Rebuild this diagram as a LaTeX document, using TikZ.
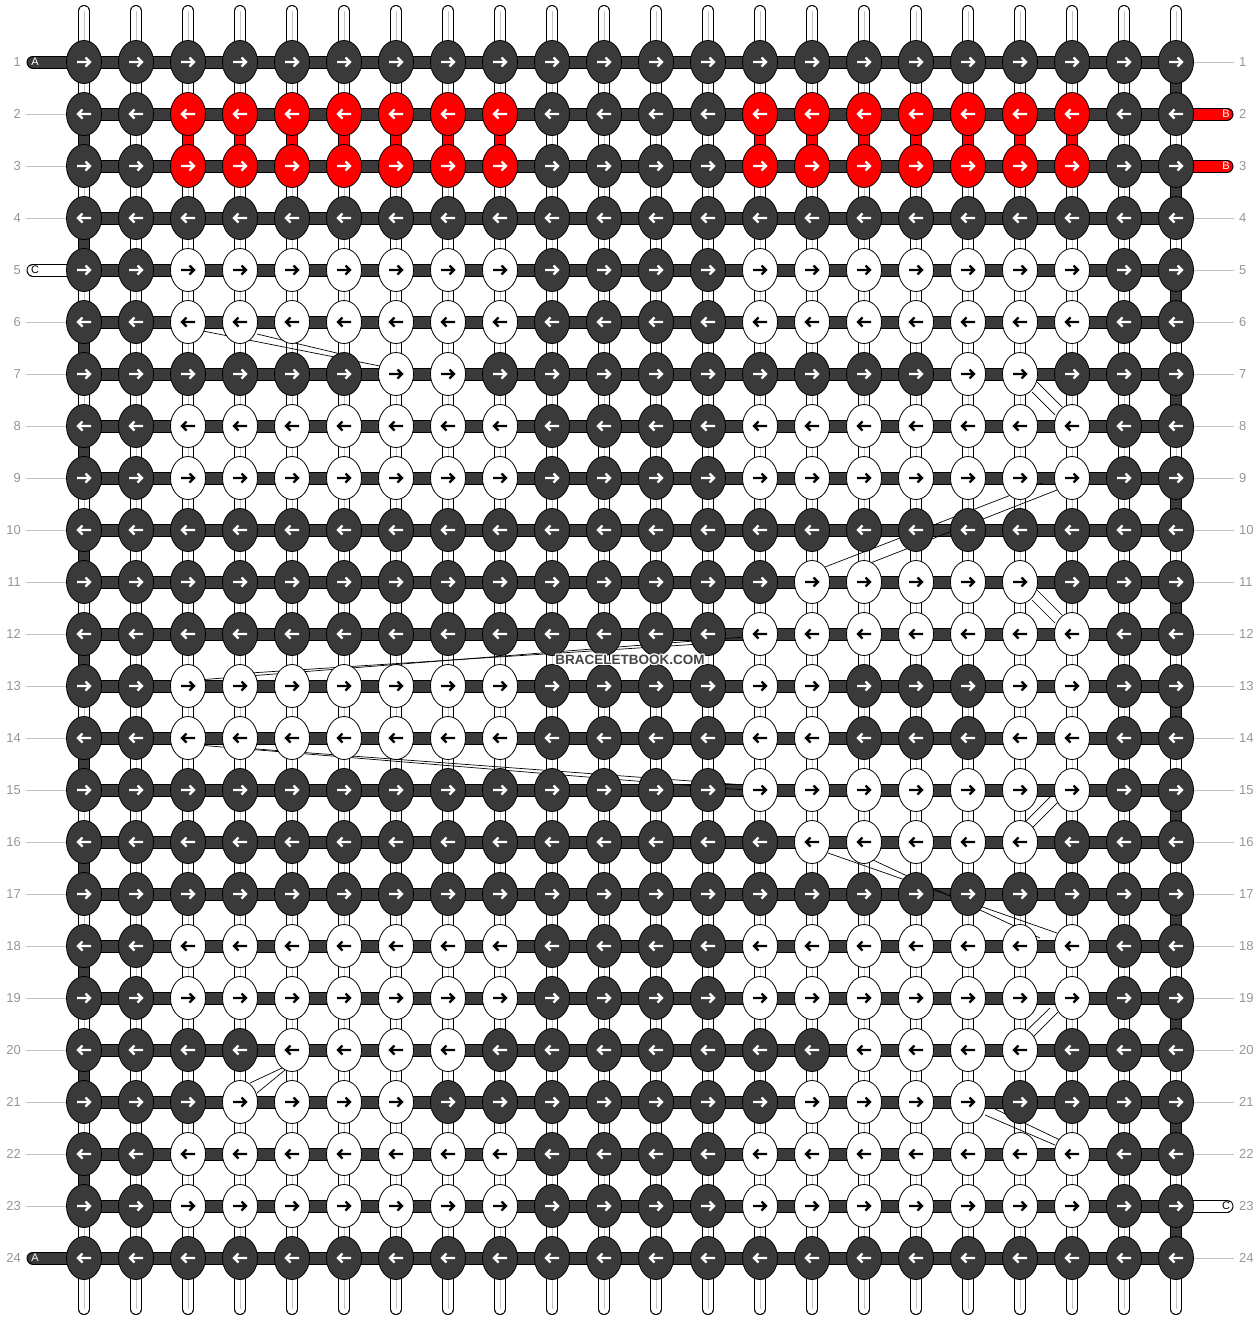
\documentclass[tikz,border=0pt]{standalone}
\usepackage{fontspec}
\setmainfont{Liberation Sans}
\usetikzlibrary{shapes.geometric}

\begin{document}
\begin{tikzpicture}[x=1pt, y=-1pt]
            % \draw [help lines,step = 52] (0,0) grid (1260,1320);

            \definecolor{knotDark}{RGB}{58,58,58};
            \definecolor{knotRed}{RGB}{255,0,0};
            \definecolor{centerGray}{RGB}{195,195,195};
            \definecolor{numGray}{RGB}{150,150,150};
            \definecolor{markColor}{RGB}{68,68,68};

            \tikzset{
                knot/.style = {ellipse, draw = black, line width = 0.8, minimum width = 35, minimum height = 43, inner sep = 0},
                kd/.style = {fill = knotDark},
                kr/.style = {fill = knotRed},
                kw/.style = {fill = white},
                arr/.style = {line width = 2.4, line cap = butt, line join = miter},
                ad/.style = {white}, ar/.style = {white}, aw/.style = {black},
                thread/.style = {draw = black, line width = 1, double = white, double distance = 10, line cap = round},
                seg/.style = {draw = black, line width = 1, double distance = 10},
                bar/.style = {draw = black, line width = 1, double = knotDark, double distance = 11},
                endLabel/.style = {inner sep = 0, font = \fontsize{11}{11}\selectfont},
                numLabel/.style = {inner sep = 0, numGray, font = \fontsize{13}{13}\selectfont},
                numLine/.style = {draw = centerGray, line width = 0.8},
                thinLine/.style = {black, line width = 0.7}
            }

            \useasboundingbox (0,0) rectangle (1260,1320);

            % grid of knot positions
            \foreach \r in {1,...,24}
                \foreach \c in {1,...,22}
                    \coordinate (k-\r-\c) at ({32+52*\c},{10+52*\r});
            \foreach \c in {1,...,22} {
                \coordinate (top-\c) at ({32+52*\c},11);
                \coordinate (bot-\c) at ({32+52*\c},1309);
            }

            % base threads
            \foreach \c in {1,...,22} {
                \draw [thread] (top-\c) -- (bot-\c);
                \draw [centerGray, line width = 0.8] (top-\c) -- (bot-\c);
            }

            % turns at the edges
            \foreach \r [evaluate = \r as \s using int(\r+1)] in {2,4,...,22}
                \draw [seg, double = knotDark] (k-\r-1) -- (k-\s-1);
            \foreach \r [evaluate = \r as \s using int(\r+1)] in {1,3,...,23}
                \draw [seg, double = knotDark] (k-\r-22) -- (k-\s-22);

            % red thread between row 2 and 3
            \foreach \c in {3,...,9}
                \draw [seg, double = knotRed] (k-2-\c) -- (k-3-\c);
            \foreach \c in {14,...,20}
                \draw [seg, double = knotRed] (k-2-\c) -- (k-3-\c);

            % rows
            \foreach \r in {1,...,24}
                \draw [bar] (k-\r-1) -- (k-\r-22);

            % loose ends
            \coordinate (endA1) at (33,62);
            \coordinate (endA24) at (33,1258);
            \coordinate (endC5) at (33,270);
            \coordinate (endB2) at (1227,114);
            \coordinate (endB3) at (1227,166);
            \coordinate (endC23) at (1227,1206);
            \draw [bar, line cap = round] (endA1) -- (k-1-1);
            \draw [bar, line cap = round] (endA24) -- (k-24-1);
            \draw [bar, double = white, line cap = round] (endC5) -- (k-5-1);
            \draw [bar, double = knotRed, line cap = round] (endB2) -- (k-2-22);
            \draw [bar, double = knotRed, line cap = round] (endB3) -- (k-3-22);
            \draw [bar, double = white, line cap = round] (endC23) -- (k-23-22);
            \node [endLabel, white] (labA1) at (35,62) {A};
            \node [endLabel, white] (labA24) at (35,1258) {A};
            \node [endLabel] (labC5) at (35,270) {C};
            \node [endLabel, white] (labB2) at (1226,114) {B};
            \node [endLabel, white] (labB3) at (1226,166) {B};
            \node [endLabel] (labC23) at (1226,1206) {C};

            % stray lines
            \draw [thinLine] (203,331) -- (380,366);
            \draw [thinLine] (257,334) -- (345,355);
            \draw [thinLine] (1037,382) -- (1062,407);
            \draw [thinLine] (1032,392) -- (1055,415);
            \draw [thinLine] (1042,483) -- (825,567);
            \draw [thinLine] (1057,490) -- (850,571);
            \draw [thinLine] (1037,590) -- (1062,615);
            \draw [thinLine] (1032,600) -- (1055,623);
            \draw [thinLine] (198,680) -- (745,637);
            \draw [thinLine] (250,673) -- (700,644);
            \draw [thinLine] (198,745) -- (745,790);
            \draw [thinLine] (243,748) -- (745,785);
            \draw [thinLine] (1032,828) -- (1060,800);
            \draw [thinLine] (1022,825) -- (1050,797);
            \draw [thinLine] (828,853) -- (1057,933);
            \draw [thinLine] (873,860) -- (1040,938);
            \draw [thinLine] (1032,1038) -- (1058,1012);
            \draw [thinLine] (1022,1035) -- (1050,1008);
            \draw [thinLine] (250,1083) -- (282,1068);
            \draw [thinLine] (257,1093) -- (285,1070);
            \draw [thinLine] (985,1115) -- (1055,1145);
            \draw [thinLine] (993,1108) -- (1060,1140);

            % knots
            \foreach \r/\row in {
                1/{d,d,d,d,d,d,d,d,d,d,d,d,d,d,d,d,d,d,d,d,d,d},
                2/{d,d,r,r,r,r,r,r,r,d,d,d,d,r,r,r,r,r,r,r,d,d},
                3/{d,d,r,r,r,r,r,r,r,d,d,d,d,r,r,r,r,r,r,r,d,d},
                4/{d,d,d,d,d,d,d,d,d,d,d,d,d,d,d,d,d,d,d,d,d,d},
                5/{d,d,w,w,w,w,w,w,w,d,d,d,d,w,w,w,w,w,w,w,d,d},
                6/{d,d,w,w,w,w,w,w,w,d,d,d,d,w,w,w,w,w,w,w,d,d},
                7/{d,d,d,d,d,d,w,w,d,d,d,d,d,d,d,d,d,w,w,d,d,d},
                8/{d,d,w,w,w,w,w,w,w,d,d,d,d,w,w,w,w,w,w,w,d,d},
                9/{d,d,w,w,w,w,w,w,w,d,d,d,d,w,w,w,w,w,w,w,d,d},
                10/{d,d,d,d,d,d,d,d,d,d,d,d,d,d,d,d,d,d,d,d,d,d},
                11/{d,d,d,d,d,d,d,d,d,d,d,d,d,d,w,w,w,w,w,d,d,d},
                12/{d,d,d,d,d,d,d,d,d,d,d,d,d,w,w,w,w,w,w,w,d,d},
                13/{d,d,w,w,w,w,w,w,w,d,d,d,d,w,w,d,d,d,w,w,d,d},
                14/{d,d,w,w,w,w,w,w,w,d,d,d,d,w,w,d,d,d,w,w,d,d},
                15/{d,d,d,d,d,d,d,d,d,d,d,d,d,w,w,w,w,w,w,w,d,d},
                16/{d,d,d,d,d,d,d,d,d,d,d,d,d,d,w,w,w,w,w,d,d,d},
                17/{d,d,d,d,d,d,d,d,d,d,d,d,d,d,d,d,d,d,d,d,d,d},
                18/{d,d,w,w,w,w,w,w,w,d,d,d,d,w,w,w,w,w,w,w,d,d},
                19/{d,d,w,w,w,w,w,w,w,d,d,d,d,w,w,w,w,w,w,w,d,d},
                20/{d,d,d,d,w,w,w,w,d,d,d,d,d,d,d,w,w,w,w,d,d,d},
                21/{d,d,d,w,w,w,w,d,d,d,d,d,d,d,w,w,w,w,d,d,d,d},
                22/{d,d,w,w,w,w,w,w,w,d,d,d,d,w,w,w,w,w,w,w,d,d},
                23/{d,d,w,w,w,w,w,w,w,d,d,d,d,w,w,w,w,w,w,w,d,d},
                24/{d,d,d,d,d,d,d,d,d,d,d,d,d,d,d,d,d,d,d,d,d,d}}
            {
                \pgfmathtruncatemacro\dir{1-2*mod(\r+1,2)}
                \foreach \k [count = \c] in \row {
                    \node [knot, k\k] (n-\r-\c) at (k-\r-\c) {};
                    \draw [arr, a\k, shift = {(n-\r-\c.center)}, xscale = \dir] (-7,0) -- (6,0) (1.5,-4.5) -- (6,0) -- (1.5,4.5);
                }
            }

            % row numbers
            \foreach \r in {1,...,24} {
                \node [numLabel, anchor = east] (numL-\r) at (21,{10+52*\r}) {\r};
                \node [numLabel, anchor = west] (numR-\r) at (1239,{10+52*\r}) {\r};
            }
            \foreach \r in {2,3,4,6,7,8,9,10,11,12,13,14,15,16,17,18,19,20,21,22,23}
                \draw [numLine] ([xshift = 5]numL-\r.east) -- (n-\r-1.west);
            \foreach \r in {1,4,5,6,7,8,9,10,11,12,13,14,15,16,17,18,19,20,21,22,24}
                \draw [numLine] (n-\r-22.east) -- ([xshift = -5]numR-\r.west);

            % watermark
            \foreach \dx/\dy in {-1/-1,-1/0,-1/1,0/-1,0/1,1/-1,1/0,1/1}
                \node [white, font = \bfseries\fontsize{13.5}{13.5}\selectfont] at ({630+\dx},{660+\dy}) {BRACELETBOOK.COM};
            \node [markColor, font = \bfseries\fontsize{13.5}{13.5}\selectfont] (mark) at (630,660) {BRACELETBOOK.COM};

\end{tikzpicture}
\end{document}
